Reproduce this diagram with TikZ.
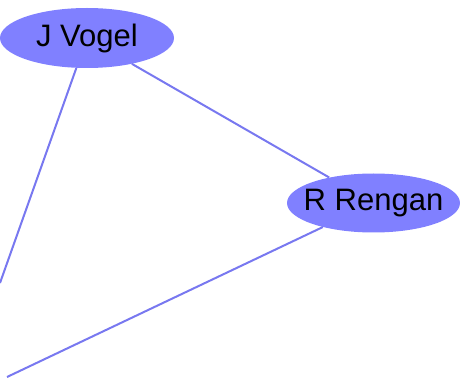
\documentclass[tikz,border=0pt]{standalone}
\usepackage{fontspec}
\setmainfont{Liberation Sans}
\usetikzlibrary{shapes.geometric}
\definecolor{nodefill}{RGB}{128,128,255}
\definecolor{edgecol}{RGB}{120,120,240}
\newcommand{\fixedlabel}[1]{\makebox[0pt]{#1}}
\begin{document}
\begin{tikzpicture}[x=1pt,y=-1pt,
  person/.style={ellipse,fill=nodefill,draw=none,inner sep=0pt,
    minimum width=174pt,minimum height=60pt,font=\fontsize{31}{33}\selectfont},
  link/.style={draw=edgecol,line width=2pt}]
\useasboundingbox (0,0) rectangle (460,379);
\clip (0,0) rectangle (460,379);
\coordinate (e1) at (0,283);
\coordinate (e2) at (7,377);
\node[person] (jv) at (87,38) {\fixedlabel{J Vogel}};
\node[person,minimum width=173pt,minimum height=59pt] (rr) at (373.5,203) {\fixedlabel{R Rengan}};
\draw[link] (jv) -- (e1);
\draw[link] (jv) -- (rr);
\draw[link] (rr) -- (e2);
\end{tikzpicture}
\end{document}
